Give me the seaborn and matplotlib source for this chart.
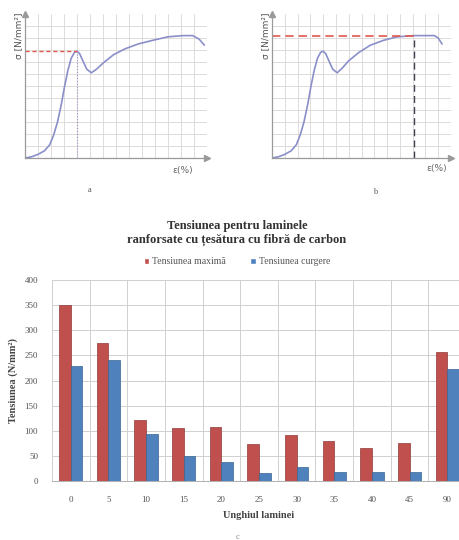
import pandas as pd
import matplotlib.pyplot as plt
import seaborn as sns

# curve a / curve b (strain, stress)
strain_a = [0, 0.5, 1.0, 1.5, 1.9, 2.2, 2.5, 2.8, 3.05, 3.3, 3.55, 3.8, 4.0, 4.2, 4.45, 4.75, 5.1,
            5.5, 6.0, 6.8, 7.7, 8.7, 9.8, 11.0, 12.2, 12.9, 13.4, 13.8]
stress_a = [0, 0.1, 0.3, 0.6, 1.1, 1.9, 3.0, 4.5, 6.0, 7.3, 8.3, 8.8, 8.9, 8.7, 8.1, 7.4, 7.1,
            7.4, 7.9, 8.6, 9.1, 9.5, 9.8, 10.1, 10.2, 10.2, 9.9, 9.4]
strain_b = [0, 0.5, 1.0, 1.5, 1.9, 2.2, 2.5, 2.8, 3.05, 3.3, 3.55, 3.8, 4.0, 4.2, 4.45, 4.75, 5.1,
            5.5, 6.0, 6.8, 7.7, 8.7, 9.8, 11.1, 12.0, 12.7, 13.0, 13.3]
stress_b = [0, 0.1, 0.3, 0.6, 1.1, 1.9, 3.0, 4.5, 6.0, 7.3, 8.3, 8.8, 8.9, 8.7, 8.1, 7.4, 7.1,
            7.5, 8.1, 8.8, 9.4, 9.8, 10.1, 10.2, 10.2, 10.2, 10.0, 9.5]
peak_a = (4.0, 8.9)
max_b = (11.1, 10.2)

# bar chart c
angles = ['0', '5', '10', '15', '20', '25', '30', '35', '40', '45', '90']
t_max = [350, 275, 122, 105, 107, 73, 92, 80, 66, 75, 257]
t_curg = [228, 240, 93, 50, 37, 16, 28, 17, 17, 18, 223]
series = ['Tensiunea maximă', 'Tensiunea curgere']

sns.set_style('white')
plt.rcParams['font.family'] = ['Liberation Serif', 'DejaVu Serif']

W, H = 459, 540
fig = plt.figure(figsize=(4.59, 5.4), dpi=100)


def px_axes(x0, y0, x1, y1):
    return fig.add_axes([x0 / W, 1 - y1 / H, (x1 - x0) / W, (y1 - y0) / H])


def sketch(ax, x, y):
    ax.set_xlim(0, 14)
    ax.set_ylim(0, 12)
    ax.set_xticks(range(0, 15))
    ax.set_yticks(range(0, 12))
    ax.grid(True, color='#dcd6d6', lw=0.6)
    ax.tick_params(length=0, labelbottom=False, labelleft=False)
    for s in ['top', 'right']:
        ax.spines[s].set_visible(False)
    for s in ['left', 'bottom']:
        ax.spines[s].set_color('#9a9a9a')
        ax.spines[s].set_linewidth(0.9)
    ax.plot([0], [12], marker='^', color='#9a9a9a', ms=4, clip_on=False)
    ax.plot([14], [0], marker='>', color='#9a9a9a', ms=4, clip_on=False)
    sns.lineplot(x=x, y=y, ax=ax, color='#8a8fca', lw=1.2, sort=False)


ax_a = px_axes(25, 14, 207, 158)
sketch(ax_a, strain_a, stress_a)
ax_a.plot([0, peak_a[0]], [peak_a[1]] * 2, ls=(0, (3, 2)), color='#e0594f', lw=1)
ax_a.plot([peak_a[0]] * 2, [0, peak_a[1]], ls=':', color='#9c8fc4', lw=0.8)

ax_b = px_axes(272, 14, 451, 158)
sketch(ax_b, strain_b, stress_b)
ax_b.plot([0, max_b[0]], [max_b[1]] * 2, ls=(0, (5, 3)), color='#e0594f', lw=1.2)
ax_b.plot([max_b[0]] * 2, [0, max_b[1]], ls=(0, (5, 3)), color='#404050', lw=1)

for ax in (ax_a, ax_b):
    ax.text(-0.5, 10.2, 'σ [N/mm²]', rotation=90, ha='center', va='center',
            fontsize=6.5, family=['DejaVu Sans'], color='#555555')
fig.text(183 / W, 1 - 170 / H, 'ε(%)', ha='center', va='center', fontsize=6.5,
         family=['DejaVu Sans'], color='#666666')
fig.text(437 / W, 1 - 169 / H, 'ε(%)', ha='center', va='center', fontsize=6.5,
         family=['DejaVu Sans'], color='#666666')
fig.text(90 / W, 1 - 190 / H, 'a', ha='center', va='center', fontsize=6, color='#555555')
fig.text(375 / W, 1 - 192 / H, 'b', ha='center', va='center', fontsize=6, color='#555555')

# bar chart
df = pd.DataFrame({
    'Unghi': angles * 2,
    'Tensiune': t_max + t_curg,
    'Serie': [series[0]] * len(angles) + [series[1]] * len(angles),
})
ax_c = px_axes(52, 280, 466, 481)
sns.barplot(data=df, x='Unghi', y='Tensiune', hue='Serie', ax=ax_c,
            palette=['#c0504d', '#4f81bd'], width=0.62, gap=0, saturation=1)
for p, ec in zip(ax_c.patches, ['#8e3a38'] * len(angles) + ['#3a6592'] * len(angles)):
    p.set_edgecolor(ec)
    p.set_linewidth(0.5)
ax_c.set_xlim(-0.5, 10.5)
ax_c.set_ylim(0, 400)
ax_c.set_yticks(range(0, 401, 50))
ax_c.set_xticks([i + 0.5 for i in range(-1, 11)], minor=True)
ax_c.grid(True, axis='y', color='#d0d0d0', lw=0.7)
ax_c.grid(True, axis='x', which='minor', color='#d0d0d0', lw=0.7)
ax_c.set_axisbelow(True)
ax_c.tick_params(which='both', length=0, labelsize=6.5, colors='#555555')
ax_c.tick_params(axis='y', pad=10)
ax_c.tick_params(axis='x', pad=11)
for s in ax_c.spines.values():
    s.set_color('#d0d0d0')
    s.set_linewidth(0.7)
ax_c.spines['bottom'].set_color('#b0b0b0')
ax_c.set_xlabel('Unghiul laminei', fontsize=7.5, fontweight='bold', color='#444444', labelpad=5)
ax_c.set_ylabel('Tensiunea (N/mm²)', fontsize=7.5, fontweight='bold', color='#444444', labelpad=5)
sns.move_legend(ax_c, 'center', bbox_to_anchor=(237 / W, 1 - 262 / H),
                bbox_transform=fig.transFigure, ncol=2, frameon=False, title=None,
                fontsize=7, handlelength=0.6, handleheight=0.6, columnspacing=2.5,
                handletextpad=0.3)
for t in ax_c.get_legend().get_texts():
    t.set_color('#555555')

fig.text(237 / W, 1 - 233 / H, 'Tensiunea pentru laminele\nranforsate cu țesătura cu fibră de carbon',
         ha='center', va='center', fontsize=9, fontweight='bold', color='#333333',
         linespacing=1.15)
fig.text(237 / W, 1 - 537 / H, 'c', ha='center', va='center', fontsize=6, color='#888888')

fig.savefig('out.png', dpi=100)
